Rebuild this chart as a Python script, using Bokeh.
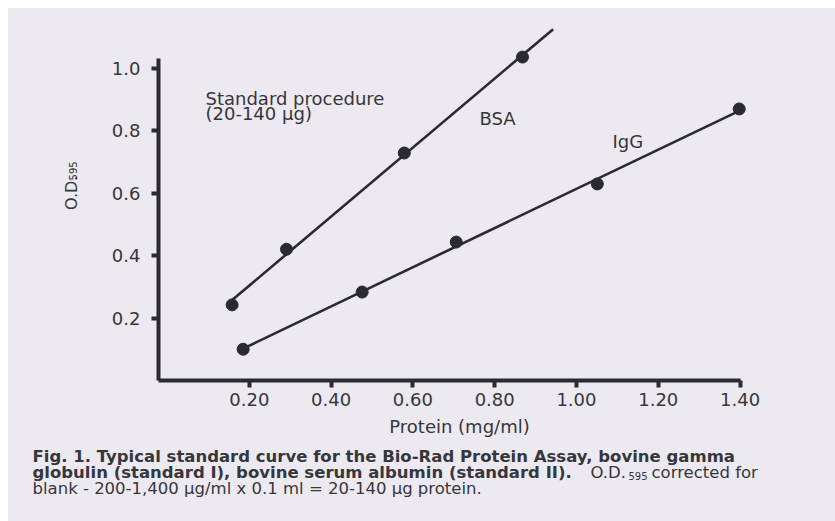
import numpy as np
from math import pi
from bokeh.plotting import figure
from bokeh.layouts import column, row
from bokeh.models import Label, FixedTicker, Range1d
from bokeh.embed import file_html
from bokeh.resources import INLINE

# ---- data ----
bsa_protein = [0.158, 0.291, 0.579, 0.868]
bsa_od = [0.242, 0.420, 0.728, 1.035]
igg_protein = [0.185, 0.476, 0.706, 1.051, 1.398]
igg_od = [0.100, 0.283, 0.443, 0.629, 0.869]
bsa_fit_extent = [0.158, 0.943]
igg_fit_extent = [0.185, 1.398]

x_ticks = [0.2, 0.4, 0.6, 0.8, 1.0, 1.2, 1.4]
x_tick_labels = ["0.20", "0.40", "0.60", "0.80", "1.00", "1.20", "1.40"]
y_ticks = [0.2, 0.4, 0.6, 0.8, 1.0]
y_tick_labels = ["0.2", "0.4", "0.6", "0.8", "1.0"]

# ---- layout ----
BG = "#ece9f1"
INK = "#2b2a30"
TXT = "#37363b"
FONT = "DejaVu Sans"

TOTAL_W, TOTAL_H = 827, 513          # page area right/below the 8px margin
TOP_H = 436                          # upper row height
YL_W = 100                           # y-label strip width
P_W = TOTAL_W - YL_W

X0, X1 = -0.022, 1.45
Y0, Y1 = 0.0, 1.1488
FW, FH = 602, 359
LEFT, TOP = 50, 13

p = figure(width=P_W, height=TOP_H, frame_width=FW, frame_height=FH,
           x_range=Range1d(X0, X1), y_range=Range1d(Y0, Y1),
           output_backend="svg", toolbar_location=None,
           min_border_left=LEFT, min_border_right=P_W - LEFT - FW,
           min_border_top=TOP, min_border_bottom=TOP_H - TOP - FH,
           background_fill_color=None, border_fill_color=None,
           outline_line_color=None)
p.grid.visible = False

PAGE_X0 = 8 + YL_W + LEFT      # page x of frame left
PAGE_Y0 = 8 + TOP + FH         # page y of frame bottom


def px(page_x):
    return X0 + (page_x - PAGE_X0) * (X1 - X0) / FW


def py(page_y):
    return Y0 + (PAGE_Y0 - page_y) * (Y1 - Y0) / FH


# fitted lines
for xs, ys, ext in [(bsa_protein, bsa_od, bsa_fit_extent),
                    (igg_protein, igg_od, igg_fit_extent)]:
    k, b = np.polyfit(xs, ys, 1)
    ex = np.array(ext)
    p.line(ex, k * ex + b, line_color=INK, line_width=2.6)

p.scatter(bsa_protein, bsa_od, size=12, fill_color=INK, line_color=INK)
p.scatter(igg_protein, igg_od, size=12, fill_color=INK, line_color=INK)

# axes
for ax in (p.xaxis[0], p.yaxis[0]):
    ax.axis_line_width = 4
    ax.axis_line_color = INK
    ax.major_tick_line_width = 4
    ax.major_tick_line_color = INK
    ax.major_tick_out = 7
    ax.major_tick_in = 0
    ax.minor_tick_line_color = None
    ax.major_label_text_font = FONT
    ax.major_label_text_font_size = "18px"
    ax.major_label_text_color = TXT

p.xaxis.ticker = FixedTicker(ticks=x_ticks)
p.xaxis.major_label_overrides = dict(zip(x_ticks, x_tick_labels))
p.yaxis.ticker = FixedTicker(ticks=y_ticks)
p.yaxis.major_label_overrides = dict(zip(y_ticks, y_tick_labels))
p.xaxis.bounds = (X0, 1.40)
p.yaxis.bounds = (0.0, 1.03)
p.xaxis.major_label_standoff = 5
p.yaxis.major_label_standoff = 11
p.xaxis.axis_label = "Protein (mg/ml)"
p.xaxis.axis_label_text_font = FONT
p.xaxis.axis_label_text_font_size = "18px"
p.xaxis.axis_label_text_font_style = "normal"
p.xaxis.axis_label_text_color = TXT
p.xaxis.axis_label_standoff = 7


def lab(fig, text, x, y, size, style="normal", angle=0.0):
    fig.add_layout(Label(x=x, y=y, text=text, text_font=FONT,
                         text_font_size=size, text_font_style=style,
                         text_color=TXT, text_align="left",
                         text_baseline="alphabetic", angle=angle))


# annotations inside the plot (page coordinates converted to data)
lab(p, "Standard procedure", px(205), py(98), "18px")
lab(p, "(20-140 µg)", px(205), py(113), "18px")
lab(p, "BSA", px(479), py(118), "18px")
lab(p, "IgG", px(612), py(141), "18px")


def blank_fig(w, h):
    f = figure(width=w, height=h, x_range=Range1d(0, w), y_range=Range1d(0, h),
               output_backend="svg", toolbar_location=None,
               x_axis_location=None, y_axis_location=None,
               min_border=0, background_fill_color=None, border_fill_color=None,
               outline_line_color=None)
    f.grid.visible = False
    return f


# y-axis title strip (page x 8..108, page y 8..444)
yl = blank_fig(YL_W, TOP_H)
yl_top = 8 + TOP_H
lab(yl, "O.D.", 71 - 8, yl_top - 237, "16px", angle=pi / 2)
lab(yl, "595", 72 - 8, yl_top - 201, "10px", angle=pi / 2)

# caption strip (page y 444..521)
CAP_H = TOTAL_H - TOP_H
cap = blank_fig(TOTAL_W, CAP_H)
cap_bottom = 8 + TOTAL_H


def cx(page_x):
    return page_x - 8


def cy(page_y):
    return cap_bottom - page_y


lab(cap, "Fig. 1. Typical standard curve for the Bio-Rad Protein Assay, bovine gamma",
    cx(32), cy(456), "16.5px", "bold")
lab(cap, "globulin (standard I), bovine serum albumin (standard II).",
    cx(32), cy(472), "16.5px", "bold")
lab(cap, "O.D.", cx(590), cy(472), "16.5px")
lab(cap, "595", cx(628), cy(475), "10px")
lab(cap, "corrected for", cx(651), cy(472), "16.5px")
lab(cap, "blank - 200-1,400 µg/ml x 0.1 ml = 20-140 µg protein.",
    cx(32), cy(488), "16.5px")

layout = column(row(yl, p, spacing=0), cap, spacing=0, margin=(8, 0, 0, 8),
                styles={"background-color": BG})

open("out.html", "w").write(file_html(layout, INLINE))
